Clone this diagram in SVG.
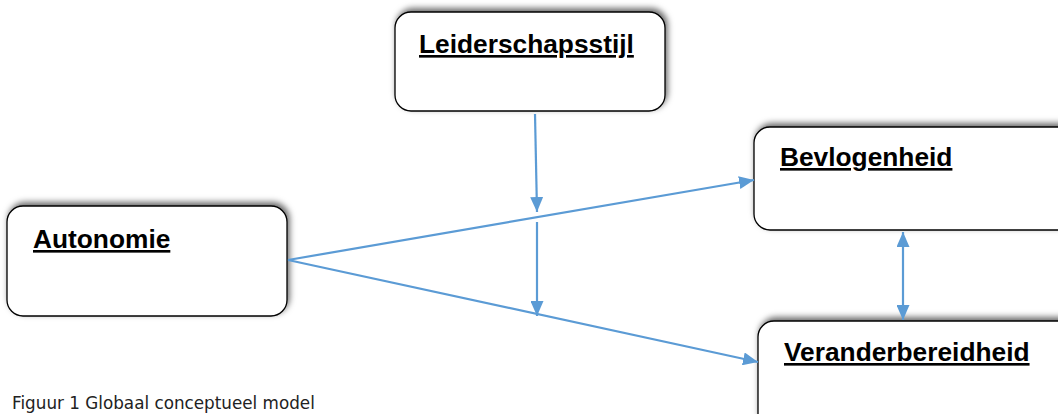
<svg xmlns="http://www.w3.org/2000/svg" width="1058" height="414" viewBox="0 0 1058 414">
  <style>
    .box { fill: #ffffff; stroke: #000000; stroke-width: 1.3; filter: url(#shadow); }
    .label { font-family: "Liberation Sans", Arial, sans-serif; font-weight: bold; font-size: 26.3px; fill: #000000; text-decoration: underline; }
    .link { stroke: #5B9BD5; stroke-width: 2.2; fill: none; }
    .caption { font-family: "DejaVu Sans", Verdana, sans-serif; font-size: 16.8px; fill: #222222; }
  </style>
  <defs>
    <filter id="shadow" x="-10%" y="-20%" width="120%" height="140%">
      <feDropShadow dx="2" dy="-3" stdDeviation="3" flood-color="#000000" flood-opacity="0.6"/>
    </filter>
    <marker id="arrow" viewBox="0 0 10 10" refX="10" refY="5" markerWidth="15" markerHeight="13" orient="auto-start-reverse" markerUnits="userSpaceOnUse" preserveAspectRatio="none">
      <path d="M0,0 L10,5 L0,10 z" fill="#5B9BD5"/>
    </marker>
  </defs>
  <rect width="1058" height="414" fill="#ffffff"/>

  <g id="node-leiderschapsstijl">
    <rect class="box" x="395" y="12" width="270" height="99" rx="16"/>
    <text class="label" x="419" y="53">Leiderschapsstijl</text>
  </g>

  <g id="node-autonomie">
    <rect class="box" x="7" y="206" width="280" height="110" rx="16"/>
    <text class="label" x="33" y="248">Autonomie</text>
  </g>

  <g id="node-bevlogenheid">
    <rect class="box" x="754" y="127" width="320" height="103" rx="16"/>
    <text class="label" x="780" y="166">Bevlogenheid</text>
  </g>

  <g id="node-veranderbereidheid">
    <rect class="box" x="758" y="321" width="320" height="110" rx="16"/>
    <text class="label" x="784" y="361">Veranderbereidheid</text>
  </g>

  <g id="connectors">
    <line class="link" x1="288" y1="260" x2="754" y2="180" marker-end="url(#arrow)"/>
    <line class="link" x1="288" y1="260" x2="758" y2="362" marker-end="url(#arrow)"/>
    <line class="link" x1="535" y1="114" x2="537" y2="212" marker-end="url(#arrow)"/>
    <line class="link" x1="537" y1="222" x2="537" y2="316" marker-end="url(#arrow)"/>
    <line class="link" x1="903" y1="232" x2="903" y2="320" marker-start="url(#arrow)" marker-end="url(#arrow)"/>
  </g>

  <text class="caption" x="12" y="409">Figuur 1 Globaal conceptueel model</text>
</svg>
